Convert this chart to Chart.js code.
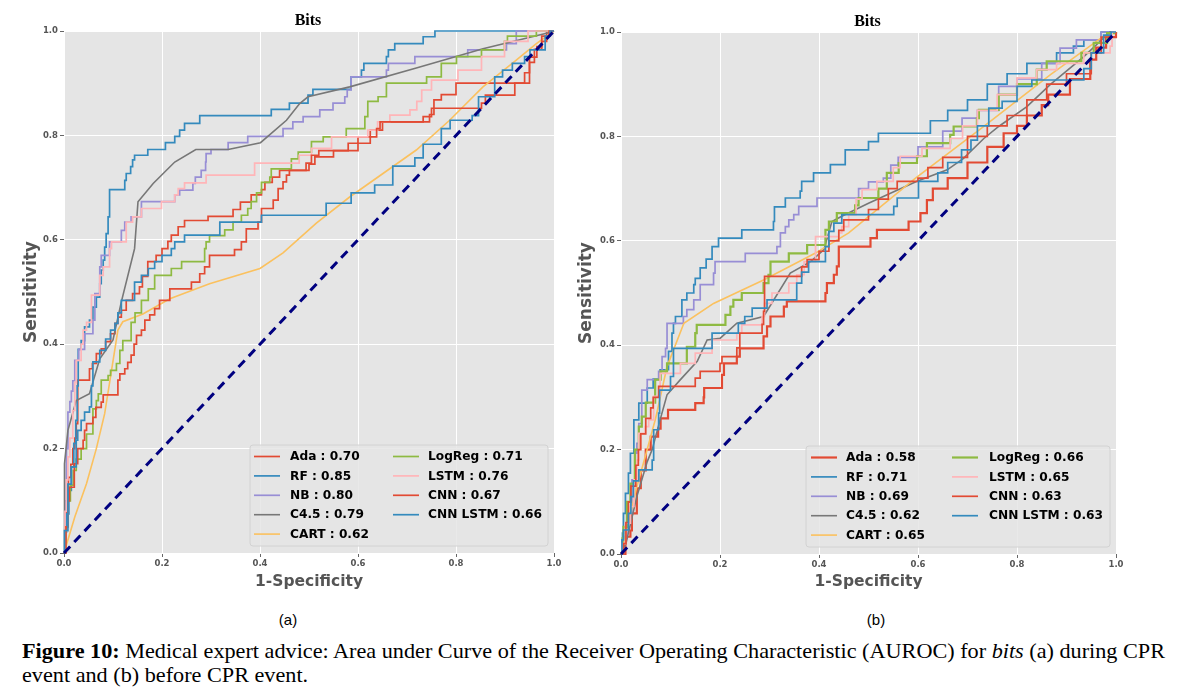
<!DOCTYPE html>
<html><head><meta charset="utf-8">
<script src="https://cdn.jsdelivr.net/npm/chart.js@4/dist/chart.umd.min.js"></script>
<style>
html,body{margin:0;padding:0;background:#fff;}
body{width:1185px;height:697px;position:relative;overflow:hidden;}
.cv{position:absolute;top:0;}
.sub{position:absolute;top:611px;font:15px 'Liberation Sans',Arial,sans-serif;color:#000;width:40px;text-align:center;}
.cap{position:absolute;left:22px;font:21px 'Liberation Serif','Times New Roman',serif;color:#000;white-space:nowrap;transform-origin:0 0;}
</style></head>
<body>
<canvas id="ca" class="cv" width="580" height="600" style="left:0px"></canvas>
<canvas id="cb" class="cv" width="580" height="600" style="left:560px"></canvas>
<div class="sub" style="left:268px">(a)</div>
<div class="sub" style="left:856px">(b)</div>
<div class="cap" id="cap1" style="top:639px"><b>Figure 10:</b> Medical expert advice: Area under Curve of the Receiver Operating Characteristic (AUROC) for <i>bits</i> (a) during CPR</div>
<div class="cap" id="cap2" style="top:663px">event and (b) before CPR event.</div>
<script>
// ---- data ----
const tickVals = [0, 0.2, 0.4, 0.6, 0.8, 1.0];
const tickLabels = ['0.0', '0.2', '0.4', '0.6', '0.8', '1.0'];
const modelNames = ['Ada', 'RF', 'NB', 'C4.5', 'CART', 'LogReg', 'LSTM', 'CNN', 'CNN LSTM'];
const aucA = ['0.70', '0.85', '0.80', '0.79', '0.62', '0.71', '0.76', '0.67', '0.66'];
const aucB = ['0.58', '0.71', '0.69', '0.62', '0.65', '0.66', '0.65', '0.63', '0.63'];
const chanceLine = [[0, 0], [1, 1]];

// chart (a): during CPR event  -- [FPR, TPR]
const a_Ada = [[0,0],[0.003,0.06],[0.006,0.1],[0.009,0.145],[0.014,0.17],[0.018,0.2],[0.022,0.22],[0.025,0.248],[0.028,0.331],[0.052,0.353],[0.058,0.363],[0.066,0.382],[0.076,0.391],[0.085,0.405],[0.095,0.42],[0.104,0.44],[0.11,0.452],[0.117,0.465],[0.127,0.484],[0.14,0.497],[0.154,0.51],[0.16,0.53],[0.171,0.558],[0.188,0.57],[0.2,0.583],[0.212,0.597],[0.219,0.609],[0.233,0.625],[0.246,0.637],[0.294,0.645],[0.345,0.658],[0.36,0.672],[0.382,0.686],[0.403,0.696],[0.41,0.71],[0.425,0.72],[0.44,0.733],[0.5,0.745],[0.512,0.759],[0.55,0.771],[0.58,0.785],[0.6,0.797],[0.625,0.81],[0.65,0.826],[0.746,0.84],[0.755,0.868],[0.77,0.878],[0.8,0.9],[0.943,0.9],[0.95,0.94],[0.96,0.965],[0.975,0.98],[0.985,1],[1,1]];
const a_RF = [[0,0],[0.003,0.04],[0.005,0.075],[0.01,0.12],[0.015,0.165],[0.02,0.21],[0.024,0.254],[0.027,0.32],[0.029,0.39],[0.035,0.407],[0.042,0.433],[0.052,0.446],[0.059,0.471],[0.066,0.49],[0.073,0.516],[0.076,0.542],[0.08,0.561],[0.083,0.586],[0.086,0.612],[0.09,0.644],[0.093,0.696],[0.124,0.714],[0.127,0.727],[0.136,0.74],[0.14,0.753],[0.144,0.762],[0.171,0.773],[0.207,0.786],[0.226,0.798],[0.236,0.81],[0.246,0.823],[0.277,0.838],[0.423,0.85],[0.46,0.862],[0.498,0.877],[0.508,0.888],[0.586,0.912],[0.607,0.925],[0.612,0.938],[0.658,0.951],[0.662,0.964],[0.675,0.976],[0.733,0.989],[0.757,1],[1,1]];
const a_NB = [[0,0],[0.002,0.1],[0.005,0.2],[0.008,0.27],[0.012,0.29],[0.015,0.31],[0.018,0.33],[0.022,0.369],[0.03,0.39],[0.042,0.42],[0.059,0.446],[0.063,0.497],[0.073,0.548],[0.076,0.57],[0.093,0.596],[0.117,0.618],[0.124,0.634],[0.137,0.644],[0.158,0.673],[0.226,0.686],[0.236,0.695],[0.263,0.708],[0.268,0.72],[0.28,0.733],[0.289,0.749],[0.29,0.765],[0.3,0.773],[0.335,0.786],[0.375,0.798],[0.447,0.813],[0.467,0.826],[0.488,0.836],[0.522,0.849],[0.549,0.862],[0.573,0.874],[0.578,0.887],[0.586,0.912],[0.658,0.925],[0.662,0.938],[0.716,0.951],[0.824,0.964],[0.903,0.976],[0.923,1],[1,1]];
const a_C45 = [[0,0],[0.001,0.171],[0.008,0.235],[0.025,0.292],[0.052,0.305],[0.073,0.372],[0.1,0.408],[0.117,0.481],[0.144,0.583],[0.151,0.673],[0.182,0.708],[0.226,0.749],[0.269,0.773],[0.335,0.773],[0.401,0.786],[0.454,0.829],[0.481,0.861],[0.498,0.874],[0.583,0.893],[0.719,0.929],[0.855,0.966],[0.991,0.997],[1,1]];
const a_CART = [[0,0],[0.022,0.069],[0.046,0.133],[0.066,0.2],[0.083,0.267],[0.097,0.35],[0.11,0.427],[0.12,0.443],[0.161,0.458],[0.216,0.487],[0.297,0.516],[0.4,0.545],[0.447,0.575],[0.515,0.632],[0.583,0.682],[0.651,0.727],[0.719,0.772],[0.787,0.829],[0.855,0.893],[0.923,0.944],[0.964,0.976],[1,1]];
const a_LogReg = [[0,0],[0.003,0.05],[0.008,0.1],[0.013,0.13],[0.019,0.158],[0.025,0.18],[0.035,0.2],[0.046,0.228],[0.059,0.276],[0.066,0.292],[0.07,0.305],[0.076,0.331],[0.09,0.34],[0.095,0.35],[0.107,0.363],[0.114,0.388],[0.12,0.407],[0.137,0.442],[0.145,0.46],[0.158,0.484],[0.172,0.506],[0.185,0.532],[0.219,0.545],[0.24,0.558],[0.287,0.583],[0.29,0.596],[0.297,0.608],[0.328,0.619],[0.345,0.634],[0.362,0.647],[0.375,0.66],[0.382,0.673],[0.393,0.69],[0.403,0.71],[0.42,0.72],[0.423,0.736],[0.464,0.755],[0.478,0.768],[0.505,0.788],[0.529,0.797],[0.576,0.813],[0.614,0.836],[0.62,0.865],[0.641,0.874],[0.658,0.9],[0.74,0.912],[0.77,0.938],[0.801,0.951],[0.852,0.964],[0.899,0.98],[0.905,0.99],[0.964,1],[1,1]];
const a_LSTM = [[0,0],[0.002,0.08],[0.005,0.14],[0.008,0.184],[0.012,0.22],[0.018,0.273],[0.022,0.327],[0.025,0.369],[0.035,0.4],[0.039,0.427],[0.046,0.442],[0.056,0.494],[0.073,0.532],[0.08,0.548],[0.093,0.583],[0.097,0.596],[0.127,0.634],[0.14,0.644],[0.158,0.66],[0.199,0.673],[0.226,0.686],[0.233,0.698],[0.246,0.709],[0.29,0.724],[0.389,0.747],[0.48,0.762],[0.505,0.775],[0.546,0.797],[0.62,0.81],[0.64,0.826],[0.665,0.839],[0.706,0.849],[0.72,0.865],[0.73,0.887],[0.75,0.906],[0.804,0.925],[0.852,0.951],[0.899,0.98],[0.947,1],[1,1]];
const a_CNN = [[0,0],[0.004,0.05],[0.008,0.1],[0.011,0.126],[0.021,0.171],[0.028,0.2],[0.039,0.216],[0.042,0.235],[0.046,0.248],[0.059,0.26],[0.065,0.279],[0.076,0.289],[0.08,0.303],[0.11,0.331],[0.114,0.343],[0.124,0.353],[0.13,0.365],[0.137,0.379],[0.143,0.4],[0.148,0.417],[0.158,0.427],[0.165,0.446],[0.175,0.456],[0.185,0.468],[0.195,0.484],[0.216,0.506],[0.26,0.519],[0.277,0.535],[0.287,0.548],[0.297,0.57],[0.348,0.581],[0.362,0.596],[0.372,0.621],[0.396,0.634],[0.403,0.66],[0.427,0.676],[0.437,0.698],[0.447,0.711],[0.454,0.724],[0.46,0.733],[0.494,0.747],[0.505,0.762],[0.52,0.771],[0.6,0.785],[0.625,0.797],[0.638,0.813],[0.645,0.826],[0.733,0.836],[0.75,0.852],[0.852,0.862],[0.86,0.877],[0.913,0.877],[0.92,0.9],[0.94,0.92],[0.95,0.95],[0.965,0.97],[0.975,0.99],[0.99,1],[1,1]];
const a_CNNLSTM = [[0,0],[0.001,0.043],[0.008,0.132],[0.015,0.165],[0.025,0.216],[0.028,0.235],[0.035,0.254],[0.042,0.27],[0.052,0.28],[0.056,0.32],[0.059,0.366],[0.073,0.388],[0.085,0.41],[0.095,0.427],[0.104,0.44],[0.11,0.46],[0.117,0.484],[0.144,0.519],[0.158,0.532],[0.172,0.545],[0.185,0.558],[0.2,0.57],[0.219,0.583],[0.226,0.596],[0.246,0.609],[0.318,0.634],[0.403,0.647],[0.535,0.67],[0.586,0.69],[0.634,0.705],[0.671,0.741],[0.716,0.757],[0.733,0.783],[0.77,0.813],[0.788,0.829],[0.833,0.838],[0.846,0.874],[0.879,0.912],[0.895,0.925],[0.915,0.938],[0.94,0.951],[0.951,0.964],[0.982,0.99],[0.992,1],[1,1]];

// chart (b): before CPR event -- [FPR, TPR]
const b_Ada = [[0,0],[0.009,0.033],[0.019,0.045],[0.022,0.078],[0.032,0.126],[0.04,0.16],[0.05,0.2],[0.06,0.225],[0.075,0.24],[0.08,0.26],[0.095,0.276],[0.15,0.289],[0.167,0.3],[0.168,0.318],[0.204,0.343],[0.208,0.365],[0.234,0.378],[0.24,0.394],[0.288,0.417],[0.295,0.436],[0.302,0.455],[0.329,0.474],[0.335,0.484],[0.413,0.5],[0.416,0.519],[0.43,0.535],[0.436,0.551],[0.44,0.589],[0.504,0.605],[0.517,0.621],[0.581,0.637],[0.605,0.653],[0.618,0.678],[0.63,0.7],[0.66,0.72],[0.7,0.75],[0.74,0.78],[0.773,0.806],[0.8,0.82],[0.82,0.84],[0.85,0.86],[0.863,0.88],[0.907,0.91],[0.948,0.947],[0.96,0.97],[0.98,0.99],[1,1]];
const b_RF = [[0,0],[0.003,0.04],[0.005,0.078],[0.009,0.116],[0.015,0.155],[0.019,0.193],[0.026,0.257],[0.036,0.289],[0.053,0.318],[0.065,0.335],[0.079,0.353],[0.096,0.388],[0.103,0.423],[0.106,0.442],[0.11,0.455],[0.123,0.487],[0.133,0.5],[0.147,0.516],[0.15,0.528],[0.16,0.548],[0.172,0.565],[0.184,0.589],[0.197,0.605],[0.244,0.621],[0.308,0.637],[0.31,0.665],[0.332,0.682],[0.362,0.695],[0.365,0.714],[0.389,0.73],[0.423,0.746],[0.453,0.774],[0.5,0.79],[0.52,0.806],[0.625,0.83],[0.66,0.85],[0.7,0.87],[0.74,0.9],[0.78,0.92],[0.82,0.94],[0.88,0.96],[0.914,0.973],[0.935,0.985],[0.97,1],[1,1]];
const b_NB = [[0,0],[0.005,0.03],[0.012,0.078],[0.022,0.142],[0.029,0.193],[0.032,0.212],[0.036,0.25],[0.042,0.314],[0.053,0.334],[0.076,0.35],[0.083,0.378],[0.09,0.394],[0.093,0.442],[0.126,0.455],[0.133,0.468],[0.147,0.487],[0.16,0.516],[0.187,0.538],[0.19,0.56],[0.251,0.576],[0.315,0.589],[0.322,0.615],[0.332,0.627],[0.339,0.64],[0.349,0.65],[0.359,0.666],[0.396,0.682],[0.48,0.7],[0.5,0.713],[0.53,0.72],[0.545,0.745],[0.56,0.76],[0.6,0.78],[0.65,0.81],[0.689,0.835],[0.72,0.85],[0.763,0.896],[0.8,0.91],[0.85,0.94],[0.887,0.969],[0.92,0.985],[0.97,1],[1,1]];
const b_C45 = [[0,0],[0.01,0.02],[0.032,0.11],[0.053,0.177],[0.063,0.2],[0.079,0.257],[0.093,0.305],[0.12,0.334],[0.154,0.369],[0.174,0.41],[0.2,0.413],[0.234,0.442],[0.288,0.455],[0.342,0.538],[0.383,0.56],[0.41,0.583],[0.426,0.637],[0.446,0.647],[0.5,0.672],[0.551,0.694],[0.598,0.714],[0.659,0.736],[0.692,0.758],[0.733,0.796],[0.763,0.819],[0.82,0.857],[0.867,0.899],[0.935,0.953],[0.988,1],[1,1]];
const b_CART = [[0,0],[0.01,0.04],[0.02,0.08],[0.032,0.129],[0.05,0.19],[0.07,0.26],[0.093,0.359],[0.127,0.442],[0.187,0.48],[0.288,0.525],[0.392,0.576],[0.46,0.615],[0.595,0.72],[0.733,0.819],[0.867,0.918],[0.975,0.992],[1,1]];
const b_LogReg = [[0,0],[0.003,0.03],[0.005,0.052],[0.012,0.1],[0.019,0.135],[0.028,0.2],[0.036,0.244],[0.042,0.263],[0.05,0.29],[0.069,0.334],[0.08,0.35],[0.093,0.365],[0.133,0.397],[0.15,0.423],[0.153,0.439],[0.211,0.458],[0.221,0.474],[0.227,0.487],[0.244,0.5],[0.288,0.519],[0.298,0.535],[0.302,0.56],[0.339,0.576],[0.376,0.592],[0.413,0.621],[0.42,0.637],[0.436,0.653],[0.473,0.668],[0.48,0.682],[0.52,0.7],[0.537,0.73],[0.561,0.749],[0.598,0.762],[0.618,0.787],[0.665,0.803],[0.672,0.819],[0.719,0.835],[0.723,0.851],[0.763,0.88],[0.8,0.9],[0.84,0.928],[0.86,0.944],[0.93,0.96],[0.955,0.979],[0.982,0.998],[1,1]];
const b_LSTM = [[0,0],[0.002,0.02],[0.009,0.059],[0.019,0.091],[0.026,0.142],[0.032,0.18],[0.036,0.231],[0.049,0.244],[0.056,0.257],[0.066,0.302],[0.079,0.346],[0.12,0.365],[0.15,0.385],[0.184,0.41],[0.234,0.423],[0.244,0.439],[0.285,0.455],[0.29,0.48],[0.305,0.5],[0.339,0.519],[0.355,0.535],[0.37,0.56],[0.393,0.608],[0.44,0.615],[0.446,0.627],[0.46,0.65],[0.475,0.68],[0.487,0.698],[0.517,0.714],[0.55,0.74],[0.564,0.762],[0.608,0.777],[0.665,0.796],[0.69,0.82],[0.72,0.85],[0.76,0.88],[0.8,0.912],[0.84,0.928],[0.88,0.94],[0.935,0.96],[0.988,0.973],[0.992,1],[1,1]];
const b_CNN = [[0,0],[0.005,0.02],[0.01,0.06],[0.015,0.1],[0.02,0.13],[0.03,0.17],[0.035,0.2],[0.04,0.23],[0.05,0.26],[0.06,0.28],[0.065,0.3],[0.076,0.321],[0.15,0.337],[0.16,0.35],[0.2,0.365],[0.204,0.378],[0.234,0.395],[0.24,0.423],[0.285,0.44],[0.288,0.465],[0.29,0.532],[0.365,0.55],[0.376,0.564],[0.4,0.58],[0.42,0.6],[0.44,0.62],[0.45,0.64],[0.5,0.66],[0.52,0.68],[0.54,0.7],[0.558,0.714],[0.6,0.72],[0.62,0.74],[0.65,0.76],[0.7,0.8],[0.74,0.82],[0.78,0.84],[0.82,0.87],[0.86,0.9],[0.9,0.92],[0.95,0.96],[0.97,0.99],[1,1]];
const b_CNNLSTM = [[0,0],[0.002,0.027],[0.005,0.046],[0.015,0.078],[0.02,0.11],[0.025,0.14],[0.036,0.161],[0.063,0.18],[0.066,0.238],[0.076,0.27],[0.078,0.314],[0.1,0.34],[0.106,0.394],[0.184,0.423],[0.237,0.442],[0.25,0.455],[0.265,0.471],[0.295,0.487],[0.355,0.519],[0.365,0.54],[0.379,0.56],[0.413,0.589],[0.42,0.618],[0.43,0.634],[0.446,0.65],[0.551,0.666],[0.558,0.682],[0.601,0.714],[0.64,0.73],[0.66,0.75],[0.688,0.774],[0.707,0.793],[0.72,0.82],[0.743,0.854],[0.77,0.867],[0.8,0.896],[0.83,0.908],[0.935,0.93],[0.95,0.96],[0.975,0.994],[0.99,1],[1,1]];

const seriesA = [a_Ada, a_RF, a_NB, a_C45, a_CART, a_LogReg, a_LSTM, a_CNN, a_CNNLSTM];
const seriesB = [b_Ada, b_RF, b_NB, b_C45, b_CART, b_LogReg, b_LSTM, b_CNN, b_CNNLSTM];

// ---- styling ----
const palette = ['#E24A33', '#348ABD', '#988ED5', '#777777', '#FBC15E', '#8EBA42', '#FFB5B8', '#E24A33', '#348ABD'];
const isStep = [true, true, true, false, false, true, true, true, true];
const tickFont = {family: "'DejaVu Sans', sans-serif", weight: 'bold', size: 8.5};

const bgPlugin = {
  id: 'bg',
  beforeDraw(chart) {
    const {ctx, chartArea: a} = chart;
    ctx.save();
    ctx.fillStyle = '#E5E5E5';
    ctx.fillRect(a.left, a.top, a.right - a.left, a.bottom - a.top);
    ctx.restore();
  }
};
const titleLegendPlugin = {
  id: 'titleLegend',
  afterDatasetsDraw(chart) {
    const {ctx, chartArea: a} = chart;
    const o = chart.options.plugins.titleLegend;
    ctx.save();
    ctx.fillStyle = '#000';
    ctx.font = "bold 16px 'Liberation Serif', 'Times New Roman', serif";
    ctx.textAlign = 'center';
    ctx.textBaseline = 'alphabetic';
    ctx.fillText('Bits', (a.left + a.right) / 2 - 1, o.titleY);
    const w = o.boxW, h = 101;
    const x0 = a.right - 6 - w, y0 = a.bottom - 7 - h;
    ctx.beginPath();
    if (ctx.roundRect) ctx.roundRect(x0, y0, w, h, 3); else ctx.rect(x0, y0, w, h);
    ctx.fillStyle = 'rgba(229,229,229,0.85)';
    ctx.fill();
    ctx.strokeStyle = '#d2d2d2';
    ctx.lineWidth = 1;
    ctx.stroke();
    ctx.font = "bold 12.2px 'DejaVu Sans', sans-serif";
    ctx.textAlign = 'left';
    ctx.textBaseline = 'middle';
    chart.data.datasets.forEach((ds, i) => {
      if (!ds.legendText) return;
      const col = i < 5 ? 0 : 1;
      const row = i < 5 ? i : i - 5;
      const y = y0 + 11.5 + row * 19.4;
      const lx = x0 + (col === 0 ? o.c1line : o.c2line);
      const tx = x0 + (col === 0 ? o.c1text : o.c2text);
      ctx.beginPath();
      ctx.moveTo(lx, y);
      ctx.lineTo(lx + 26, y);
      ctx.strokeStyle = ds.borderColor;
      ctx.lineWidth = ds.borderWidth;
      ctx.stroke();
      ctx.fillStyle = '#000';
      ctx.fillText(ds.legendText, tx, y + 0.5);
    });
    ctx.restore();
  }
};

function makeChart(id, series, auc, g) {
  const datasets = series.map((s, i) => ({
    data: s.map(p => ({x: p[0], y: p[1]})),
    borderColor: palette[i],
    borderWidth: g.widths[i],
    stepped: isStep[i] ? 'before' : false,
    tension: 0,
    pointRadius: 0,
    fill: false,
    clip: 2,
    order: series.length - i + 1,
    legendText: modelNames[i] + ' : ' + auc[i]
  }));
  datasets.push({
    data: chanceLine.map(p => ({x: p[0], y: p[1]})),
    borderColor: '#000080',
    borderWidth: 3,
    borderDash: [9, 6],
    pointRadius: 0,
    fill: false,
    clip: 2,
    order: 0
  });
  const axis = (titleText, titleSize, fit, titlePad) => ({
    type: 'linear', min: 0, max: 1,
    afterBuildTicks: s => { s.ticks = tickVals.map(v => ({value: v})); },
    ticks: {
      callback: (v, i) => tickLabels[i],
      font: tickFont, color: '#555', padding: 2, maxRotation: 0, autoSkip: false
    },
    grid: {color: '#ffffff', lineWidth: 1, tickColor: '#666', tickLength: 4, drawTicks: true},
    border: {display: false},
    title: {display: true, text: titleText, font: {family: "'DejaVu Sans', sans-serif", weight: 'bold', size: titleSize}, color: '#555', padding: titlePad},
    afterFit: fit
  });
  return new Chart(document.getElementById(id), {
    type: 'line',
    data: {datasets},
    options: {
      responsive: false,
      animation: false,
      events: [],
      layout: {padding: {top: g.top, right: g.right, left: 0, bottom: 0}},
      scales: {
        x: axis('1-Specificity', 15.5, s => { s.height = g.xh; }, {top: 0, bottom: 9}),
        y: axis('Sensitivity', 17, s => { s.width = g.yw; }, {top: g.ytp, bottom: 0})
      },
      plugins: {
        legend: {display: false},
        tooltip: {enabled: false},
        titleLegend: g.leg
      }
    },
    plugins: [bgPlugin, titleLegendPlugin]
  });
}

makeChart('ca', seriesA, aucA, {
  top: 31, right: 26, xh: 47, yw: 64, ytp: 21,
  widths: [1.7, 1.7, 1.7, 1.6, 1.6, 1.7, 1.7, 1.7, 1.7],
  leg: {titleY: 25, boxW: 298, c1line: 4, c1text: 40, c2line: 143, c2text: 178}
});
makeChart('cb', seriesB, aucB, {
  top: 32, right: 24, xh: 46, yw: 61, ytp: 16,
  widths: [2.2, 1.7, 1.7, 1.6, 1.6, 2.2, 1.7, 1.7, 1.7],
  leg: {titleY: 26, boxW: 304, c1line: 5, c1text: 40, c2line: 146, c2text: 183}
});

// fit caption line to reference width
const c1 = document.getElementById('cap1');
const c2 = document.getElementById('cap2');
const sx = 1143 / c1.getBoundingClientRect().width;
c1.style.transform = 'scaleX(' + sx + ')';
c2.style.transform = 'scaleX(' + sx + ')';
</script>
</body></html>
